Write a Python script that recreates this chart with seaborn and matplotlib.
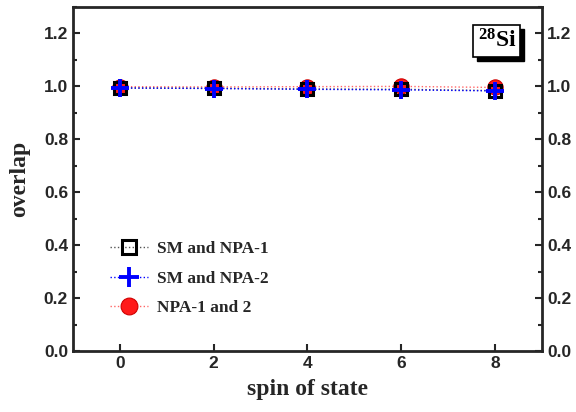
import matplotlib
matplotlib.use("Agg")
import matplotlib.pyplot as plt
from matplotlib import font_manager as fm
from matplotlib.patches import Rectangle
from matplotlib.ticker import MultipleLocator, FormatStrFormatter
import seaborn as sns
import pandas as pd

spins = [0, 2, 4, 6, 8]
sm_npa1 = [0.994, 0.993, 0.990, 0.989, 0.984]
sm_npa2 = [0.994, 0.992, 0.989, 0.987, 0.983]
npa1_npa2 = [0.999, 0.998, 0.999, 1.000, 0.996]
series_names = ["SM and NPA-1", "SM and NPA-2", "NPA-1 and 2"]
x_ticks = [0, 2, 4, 6, 8]
y_ticks = [0.0, 0.2, 0.4, 0.6, 0.8, 1.0, 1.2]


def find_font(family, bold=True):
    for f in fm.fontManager.ttflist:
        if f.name == family and f.style == "normal" and "Narrow" not in f.fname:
            w = f.weight if isinstance(f.weight, int) else (700 if "bold" in str(f.weight).lower() else 400)
            if bold and w >= 600:
                return fm.FontProperties(fname=f.fname)
    return None


sns.set_style("ticks")
plt.rcParams["font.family"] = ["Liberation Sans", "DejaVu Sans"]
plt.rcParams["mathtext.fontset"] = "custom"
plt.rcParams["mathtext.rm"] = "Liberation Serif:bold"
plt.rcParams["mathtext.it"] = "Liberation Serif:bold"
plt.rcParams["mathtext.bf"] = "Liberation Serif:bold"

sans_b = find_font("Liberation Sans") or fm.FontProperties(family="Liberation Sans", weight="bold")
serif_b = find_font("Liberation Serif") or fm.FontProperties(family="Liberation Serif", weight="bold")

fig = plt.figure(figsize=(5.76, 4.12), dpi=100)
ax = fig.add_axes([0.1267, 0.148, 0.8143, 0.835])

df = pd.DataFrame({"spin": spins * 3,
                   "overlap": sm_npa1 + sm_npa2 + npa1_npa2,
                   "pair": [series_names[0]] * 5 + [series_names[1]] * 5 + [series_names[2]] * 5})

# red (behind), black, blue (top)
sub = df[df["pair"] == series_names[2]]
sns.lineplot(data=sub, x="spin", y="overlap", ax=ax, color="#ff6666", lw=1.0, linestyle=":",
             marker="o", markersize=11, markerfacecolor="#ff1a1a", markeredgecolor="#d00000",
             markeredgewidth=0.8, label=series_names[2])
sub = df[df["pair"] == series_names[0]]
sns.lineplot(data=sub, x="spin", y="overlap", ax=ax, color="#555555", lw=1.0, linestyle=":",
             marker="s", markersize=9, markerfacecolor="none", markeredgecolor="black",
             markeredgewidth=2.2, label=series_names[0])
sub = df[df["pair"] == series_names[1]]
sns.lineplot(data=sub, x="spin", y="overlap", ax=ax, color="blue", lw=1.0, linestyle=":",
             marker="+", markersize=13, markeredgewidth=2.8, markeredgecolor="blue",
             label=series_names[1])

ax.set_xlim(-1, 9)
ax.set_ylim(0, 1.3)
ax.set_xticks(x_ticks)
ax.set_yticks(y_ticks)
ax.yaxis.set_minor_locator(MultipleLocator(0.1))
ax.yaxis.set_major_formatter(FormatStrFormatter("%.1f"))
ax.tick_params(axis="both", which="both", direction="in", width=1.5)
ax.tick_params(axis="both", which="major", length=5)
ax.tick_params(axis="y", which="minor", length=3)
ax.tick_params(axis="y", which="both", right=True, labelright=True)
ax.tick_params(axis="x", which="both", top=False)
for sp in ax.spines.values():
    sp.set_linewidth(2)
    sp.set_visible(True)

ax.set_xlabel("spin of state", fontproperties=serif_b, fontsize=17, labelpad=6)
ax.set_ylabel("overlap", fontproperties=serif_b, fontsize=17, labelpad=10)

handles, labels = ax.get_legend_handles_labels()
hmap = dict(zip(labels, handles))
leg_prop = serif_b.copy()
leg_prop.set_size(12.5)
ax.legend([hmap[n] for n in series_names], series_names, loc="lower left",
          bbox_to_anchor=(0.045, 0.057), frameon=False, prop=leg_prop,
          handlelength=2.2, labelspacing=0.75, handletextpad=0.5, markerscale=1.1)

fig.canvas.draw()
tick_size = 12.5
for t in ax.yaxis.get_major_ticks():
    t.label1.set_fontproperties(sans_b); t.label1.set_fontsize(tick_size)
    t.label2.set_fontproperties(sans_b); t.label2.set_fontsize(tick_size)
for t in ax.xaxis.get_major_ticks():
    t.label1.set_fontproperties(sans_b); t.label1.set_fontsize(tick_size)

# label box with shadow
lbl_prop = serif_b.copy()
lbl_prop.set_size(17)
txt = ax.text(0.945, 0.935, r"$^{28}$Si", transform=ax.transAxes, ha="right", va="top",
              fontproperties=lbl_prop, color="black", zorder=6,
              bbox=dict(boxstyle="square,pad=0.18", fc="white", ec="black", lw=1.2))
fig.canvas.draw()
bb = txt.get_bbox_patch().get_window_extent()
off = 4
shadow = Rectangle((bb.x0 + off, bb.y0 - off), bb.width, bb.height, transform=None,
                   facecolor="black", edgecolor="black", zorder=5)
ax.add_artist(shadow)

fig.savefig("out.png", dpi=100)
